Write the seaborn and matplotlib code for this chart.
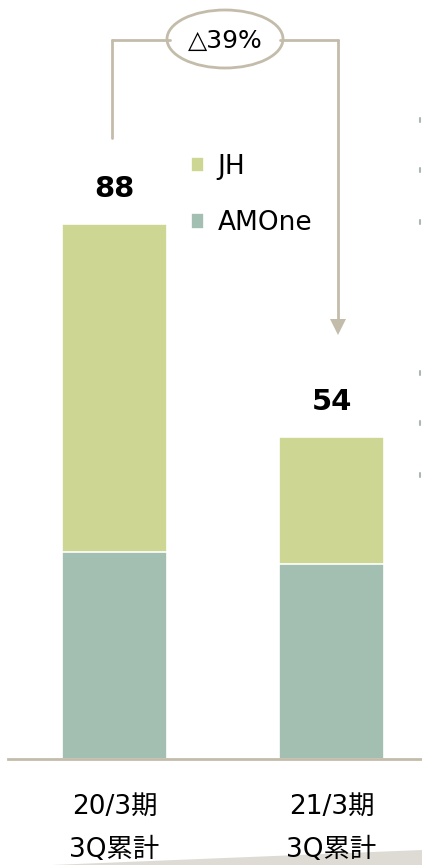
import matplotlib
matplotlib.use("Agg")
import matplotlib.pyplot as plt
import seaborn as sns
import pandas as pd
from matplotlib.patches import Ellipse, Polygon
from matplotlib.lines import Line2D

# ---- data ----
categories = ["20/3期\n3Q累計", "21/3期\n3Q累計"]
amone = [34, 32]
jh = [54, 21]
total_labels = ["88", "54"]
change_label = "△39%"
series_names = ["JH", "AMOne"]

JH_COLOR = "#cdd692"
AM_COLOR = "#a3bfb2"
TAN = "#c4bcaa"

sns.set_theme(style="white")
plt.rcParams["font.family"] = ["DejaVu Sans", "Noto Sans CJK JP"]
plt.rcParams["text.color"] = "black"

W, H = 422, 865
fig = plt.figure(figsize=(W / 100, H / 100), dpi=100)

def fx(px):
    return px / W

def fy(py):
    return 1 - py / H

# axes: x from 8px to 422px, baseline at 759px, top at 0
ax = fig.add_axes([fx(8), fy(759), fx(422) - fx(8), fy(0) - fy(759)])

df = pd.DataFrame({"cat": categories, "AMOne": amone, "JH": jh,
                   "total": [a + j for a, j in zip(amone, jh)]})

sns.barplot(data=df, x="cat", y="total", color=JH_COLOR, width=0.484,
            edgecolor="white", linewidth=1.2, label=series_names[0], ax=ax,
            saturation=1)
sns.barplot(data=df, x="cat", y="AMOne", color=AM_COLOR, width=0.484,
            edgecolor="white", linewidth=1.2, label=series_names[1], ax=ax,
            saturation=1)

ax.bar_label(ax.containers[0], labels=total_labels, padding=15,
             fontsize=21, fontweight="bold", color="black")

ax.set_xlim(-0.491, 1.417)
ax.set_ylim(0, 759 / 6.08)
ax.set_xlabel("")
ax.set_ylabel("")
ax.set_yticks([])
ax.set_xticks([0, 1])
ax.set_xticklabels(categories, fontsize=19, linespacing=1.85, color="black")
ax.tick_params(axis="x", length=0, pad=25)
for s in ["top", "left", "right"]:
    ax.spines[s].set_visible(False)
ax.spines["bottom"].set_color(TAN)
ax.spines["bottom"].set_linewidth(2)
ax.patch.set_alpha(0)

leg = ax.legend(loc="upper left", bbox_to_anchor=(fx(191), fy(154)),
                bbox_transform=fig.transFigure, frameon=False, fontsize=19,
                handlelength=0.5, handleheight=0.5, handletextpad=0.5,
                labelspacing=1.15, borderpad=0, borderaxespad=0)
for t in leg.get_texts():
    t.set_color("black")

# ---- bracket with ellipse ----
lw = 2
fig.add_artist(Line2D([fx(112), fx(112)], [fy(138), fy(40)], color=TAN, lw=lw))
fig.add_artist(Line2D([fx(112), fx(170)], [fy(40), fy(40)], color=TAN, lw=lw))
fig.add_artist(Line2D([fx(280), fx(338)], [fy(40), fy(40)], color=TAN, lw=lw))
fig.add_artist(Line2D([fx(338), fx(338)], [fy(40), fy(321)], color=TAN, lw=lw))
fig.add_artist(Polygon([[fx(330), fy(319)], [fx(346), fy(319)], [fx(338), fy(335)]],
                       closed=True, facecolor=TAN, edgecolor="none",
                       transform=fig.transFigure))
fig.add_artist(Ellipse((fx(225), fy(39)), 116 / W, 58 / H, facecolor="white",
                       edgecolor=TAN, lw=lw, transform=fig.transFigure))
fig.text(fx(225), fy(41), change_label, ha="center", va="center", fontsize=18,
         color="black")

# ---- small decorative marks at right edge ----
for py in [120, 170, 222, 373, 423, 475]:
    fig.add_artist(Line2D([fx(420), fx(420)], [fy(py - 2), fy(py + 2)],
                          color="#aab8b0", lw=1.5))

# ---- grey decorative shape bottom right ----
fig.patches.append(Polygon([[fx(52), fy(865)], [fx(422), fy(850)], [fx(422), fy(865)]],
                           closed=True, facecolor="#dedbd4", edgecolor="none",
                           transform=fig.transFigure, zorder=-1))

fig.savefig("out.png", dpi=100)
